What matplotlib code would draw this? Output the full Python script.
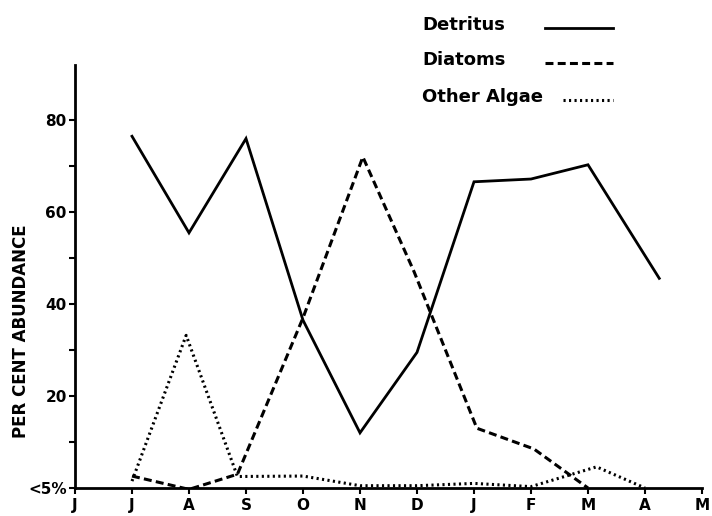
import matplotlib
matplotlib.use("Agg")
import matplotlib.pyplot as plt
from matplotlib.lines import Line2D
import numpy as np

# month labels along the x axis (J J A S O N D J F M A M)
months = ["J", "J", "A", "S", "O", "N", "D", "J", "F", "M", "A", "M"]

# per cent abundance (x = month index)
detritus_x = [1, 2, 3, 4, 5, 6, 7, 8, 9, 10.25]
detritus = [76.5, 55.5, 76, 36.5, 12, 29.5, 66.6, 67.2, 70.3, 45.6]

diatoms_x = [1, 2, 2.85, 4, 5.05, 5.95, 7.05, 8.05, 9]
diatoms = [2.6, -0.3, 3, 37, 72, 47, 13, 8.5, 0]

algae_x = [1, 1.95, 2.85, 4, 5, 6, 7, 8, 9.15, 10]
algae = [1.5, 33.2, 2.5, 2.6, 0.5, 0.5, 1, 0.3, 4.6, 0]

legend_names = ["Detritus", "Diatoms", "Other Algae"]

W, H = 712, 516
fig = plt.figure(figsize=(W/100, H/100), dpi=100)
ax = fig.add_axes([75/W, 1 - 488/H, (702-75)/W, (488-65)/H])

solid = dict(ls="-", lw=2.0)
dashed = dict(ls=(0, (2.6, 1.4)), lw=2.2)
dotted = dict(ls=(0, (0.7, 1.1)), lw=2.2)

ax.plot(detritus_x, detritus, color="black", solid_joinstyle="miter", **solid)
ax.plot(diatoms_x, diatoms, color="black", **dashed)
ax.plot(algae_x, algae, color="black", **dotted)

ax.set_xlim(0, 11)
ax.set_ylim(0, 92)
ax.spines["top"].set_visible(False)
ax.spines["right"].set_visible(False)
ax.spines["left"].set_linewidth(2)
ax.spines["bottom"].set_linewidth(2)

ax.set_xticks(np.arange(len(months)))
ax.set_xticklabels(months, fontweight="bold", fontsize=11)
ax.set_yticks([0, 20, 40, 60, 80])
ax.set_yticklabels(["<5%", "20", "40", "60", "80"], fontweight="bold", fontsize=11)
ax.set_yticks([10, 30, 50, 70], minor=True)
ax.tick_params(axis="both", which="both", direction="out", length=4, width=1.5)
ax.tick_params(axis="x", pad=3)
ax.tick_params(axis="y", pad=2)

ax.set_ylabel("PER CENT ABUNDANCE", fontweight="bold", fontsize=12)
ax.yaxis.set_label_coords(-45/627, 0.37)

# hand-made legend: label on the left, line sample on the right
rows = [(25, solid, 545), (60, dashed, 545), (97, dotted, 563)]
for name, (y, style, x0) in zip(legend_names, rows):
    fig.text(422/W, 1 - y/H, name, fontsize=13, fontweight="bold",
             ha="left", va="center")
    fig.add_artist(Line2D([x0/W, 613/W], [1 - (y+3)/H, 1 - (y+3)/H],
                          color="black", **style))

fig.savefig("out.png", dpi=100)
